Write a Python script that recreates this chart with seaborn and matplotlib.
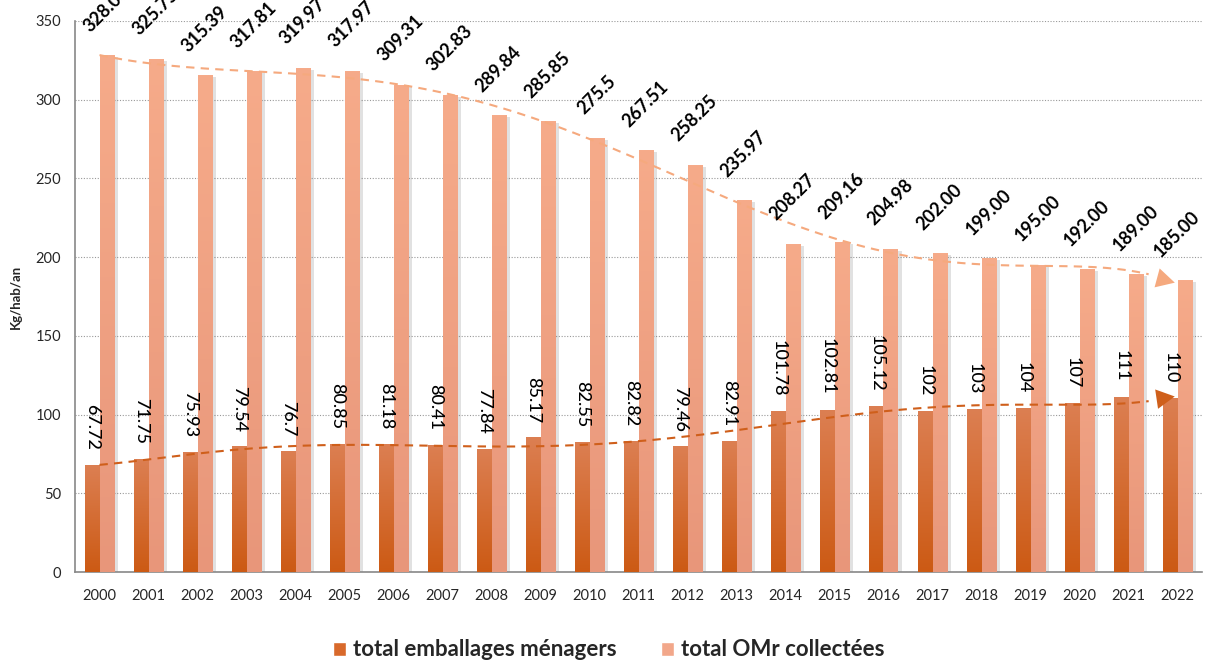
import numpy as np
import pandas as pd
import matplotlib
matplotlib.use("Agg")
import matplotlib.pyplot as plt
import seaborn as sns
from matplotlib.colors import LinearSegmentedColormap
from matplotlib.patches import Patch
import matplotlib.patheffects as pe

years = [str(y) for y in range(2000, 2023)]
emballages = [67.72, 71.75, 75.93, 79.54, 76.7, 80.85, 81.18, 80.41, 77.84, 85.17, 82.55, 82.82,
              79.46, 82.91, 101.78, 102.81, 105.12, 102, 103, 104, 107, 111, 110]
omr = [328.06, 325.75, 315.39, 317.81, 319.97, 317.97, 309.31, 302.83, 289.84, 285.85, 275.5, 267.51,
       258.25, 235.97, 208.27, 209.16, 204.98, 202.00, 199.00, 195.00, 192.00, 189.00, 185.00]
omr_labels = ["328.06", "325.75", "315.39", "317.81", "319.97", "317.97", "309.31", "302.83", "289.84",
              "285.85", "275.5", "267.51", "258.25", "235.97", "208.27", "209.16", "204.98", "202.00",
              "199.00", "195.00", "192.00", "189.00", "185.00"]
series = ["total emballages ménagers", "total OMr collectées"]

df = pd.DataFrame({
    "annee": years * 2,
    "valeur": emballages + omr,
    "serie": [series[0]] * len(years) + [series[1]] * len(years),
})

sns.set_style("white")
plt.rcParams["font.family"] = ["Lato", "DejaVu Sans"]

dark = "#D96A2C"
light = "#F4A98A"
dark_grad = LinearSegmentedColormap.from_list("d", ["#CC5A14", "#DC7F52"])
light_grad = LinearSegmentedColormap.from_list("l", ["#E8967A", "#F6AB8A"])

fig = plt.figure(figsize=(12.05, 6.63), dpi=100)
ax = fig.add_axes([75 / 1205, 1 - 572 / 663, 1127 / 1205, 551 / 663])

sns.barplot(data=df, x="annee", y="valeur", hue="serie", palette=[dark, light],
            width=0.6, gap=0, ax=ax, legend=False, zorder=3)

# gradient fill + soft shadow for the bars
bars = [p for p in ax.patches]
grad = np.linspace(0, 1, 256).reshape(-1, 1)
for i, p in enumerate(bars):
    x0, w, h = p.get_x(), p.get_width(), p.get_height()
    cmap = dark_grad if i < len(years) else light_grad
    p.set_facecolor("none")
    p.set_edgecolor("none")
    ax.imshow(grad, extent=[x0, x0 + w, 0, h], origin="lower", cmap=cmap, aspect="auto", zorder=4)
    shadow = plt.Rectangle((x0, 0), w, h, facecolor="white", edgecolor="none", zorder=2,
                           path_effects=[pe.SimplePatchShadow(offset=(3, -1), shadow_rgbFace="#777777", alpha=0.22)])
    ax.add_patch(shadow)

# polynomial trend lines (order 6) with arrow heads
xs = np.arange(len(years))
xf = np.linspace(0, len(years) - 1, 300)
for vals, col in [(omr, "#F5A97E"), (emballages, "#CF5F1B")]:
    yf = np.polyval(np.polyfit(xs, vals, 6), xf)
    ax.plot(xf[:-8], yf[:-8], linestyle=(0, (4, 3)), color=col, lw=1.5, zorder=6)
    ax.annotate("", xy=(xf[-1], yf[-1]), xytext=(xf[-14], yf[-14]),
                arrowprops=dict(arrowstyle="-|>,head_length=0.6,head_width=0.32", mutation_scale=22,
                                color=col, lw=0), zorder=7)

# value labels
for i in range(len(years)):
    dx = -6 if i == len(years) - 1 else 0
    ax.annotate(omr_labels[i], xy=(i + 0.15, omr[i]), xytext=(dx, 15), textcoords="offset points",
                rotation=45, ha="center", va="bottom", fontsize=13, fontweight="bold",
                color="black", annotation_clip=False, zorder=8)
    ax.annotate(f"{emballages[i]:g}", xy=(i - 0.15, emballages[i]), xytext=(0, 11),
                textcoords="offset points", rotation=270, ha="center", va="bottom",
                fontsize=13, fontweight="medium", color="black", zorder=8)

ax.set_xlim(-0.5, len(years) - 0.5)
ax.set_ylim(0, 350)
ax.set_yticks(range(0, 351, 50))
ax.set_xticks(np.arange(-0.5, len(years), 1), minor=True)
ax.tick_params(axis="x", which="major", length=0, labelsize=10.5, pad=12)
ax.tick_params(axis="x", which="minor", length=5, color="#888888", direction="out")
ax.tick_params(axis="y", length=4, color="#888888", direction="out", labelsize=10.5, pad=6)
ax.grid(axis="y", linestyle=(0, (1, 1.5)), color="#999999", lw=0.8, zorder=0)
ax.set_axisbelow(True)
for s in ["top", "right"]:
    ax.spines[s].set_visible(False)
for s in ["left", "bottom"]:
    ax.spines[s].set_color("#888888")
    ax.spines[s].set_linewidth(1.2)
ax.set_xlabel("")
ax.set_ylabel("Kg/hab/an", fontsize=9.5, fontweight="bold", labelpad=10)

handles = [Patch(facecolor="#D8692B", label=series[0]), Patch(facecolor="#F2A78A", label=series[1])]
fig.legend(handles=handles, loc="center", bbox_to_anchor=(0.505, 1 - 650 / 663), ncol=2,
           frameon=False, prop={"weight": "bold", "size": 16}, handlelength=0.6, handleheight=0.6,
           handletextpad=0.3, columnspacing=2.0)

fig.savefig("out.png", dpi=100)
